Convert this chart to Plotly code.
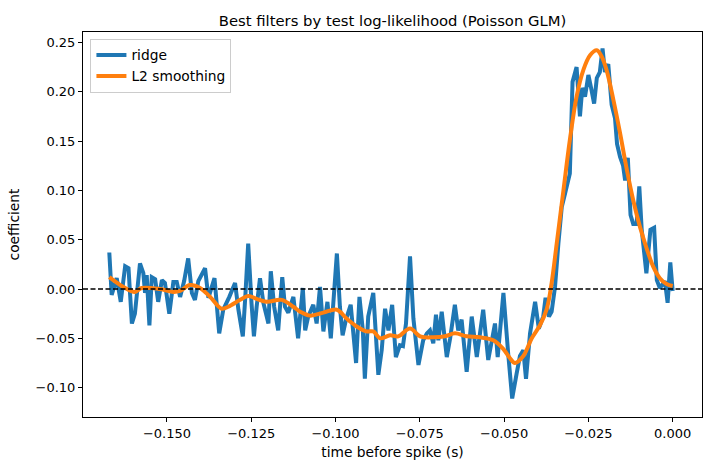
import plotly.graph_objects as go

# ridge filter: lag (s) and coefficient
ridge_t = [-0.1671, -0.1664, -0.1649, -0.1637, -0.1624, -0.1614, -0.1604, -0.1595, -0.1580, -0.1570,
           -0.1565, -0.1560, -0.1552, -0.1545, -0.1535, -0.1526, -0.1515, -0.1506, -0.1493, -0.1481,
           -0.1471, -0.1461, -0.1449, -0.1437, -0.1426, -0.1417, -0.1407, -0.1387, -0.1377, -0.1367,
           -0.1359, -0.1345, -0.1333, -0.1315, -0.1298, -0.1288, -0.1275, -0.1268, -0.1259, -0.1249,
           -0.1242, -0.1234, -0.1224, -0.1214, -0.1199, -0.1192, -0.1182, -0.1170, -0.1158, -0.1150,
           -0.1140, -0.1125, -0.1111, -0.1097, -0.1090, -0.1081, -0.1066, -0.1056, -0.1046, -0.1036,
           -0.1024, -0.1014, -0.0996, -0.0987, -0.0979, -0.0969, -0.0955, -0.0939, -0.0929, -0.0919,
           -0.0913, -0.0903, -0.0888, -0.0873, -0.0863, -0.0853, -0.0843, -0.0832, -0.0821, -0.0809,
           -0.0800, -0.0791, -0.0779, -0.0769, -0.0754, -0.0740, -0.0729, -0.0720, -0.0710, -0.0702,
           -0.0695, -0.0685, -0.0670, -0.0660, -0.0646, -0.0636, -0.0626, -0.0611, -0.0596, -0.0581,
           -0.0562, -0.0547, -0.0536, -0.0527, -0.0519, -0.0502, -0.0488, -0.0476, -0.0463, -0.0453,
           -0.0443, -0.0435, -0.0423, -0.0408, -0.0397, -0.0384, -0.0377, -0.0367, -0.0359, -0.0349,
           -0.0339, -0.0329, -0.0319, -0.0310, -0.0305, -0.0297, -0.0285, -0.0275, -0.0268, -0.0260,
           -0.0250, -0.0242, -0.0233, -0.0225, -0.0216, -0.0208, -0.0201, -0.0191, -0.0181, -0.0171,
           -0.0165, -0.0156, -0.0147, -0.0141, -0.0133, -0.0125, -0.0117, -0.0107, -0.0099, -0.0092,
           -0.0078, -0.0066, -0.0055, -0.0047, -0.0038, -0.0023, -0.0015, -0.0007, 0.0]
ridge_w = [0.037, -0.006, 0.011, -0.013, 0.023, 0.021, -0.035, -0.025, 0.026, 0.016,
           -0.004, 0.014, -0.037, 0.012, 0.010, -0.013, 0.009, 0.006, -0.025, 0.007,
           0.007, -0.008, 0.008, 0.031, -0.004, -0.011, 0.008, 0.021, -0.009, 0.004,
           0.011, -0.045, -0.021, -0.008, 0.006, -0.021, -0.048, -0.010, 0.046, -0.015,
           -0.048, -0.018, 0.011, -0.014, -0.035, 0.018, -0.018, -0.042, 0.012, -0.018,
           -0.024, -0.008, -0.050, 0.001, -0.042, -0.028, -0.016, -0.035, 0.002, -0.043,
           -0.013, -0.050, 0.036, -0.018, -0.047, -0.031, -0.016, -0.075, -0.008, -0.042,
           -0.091, -0.028, -0.004, -0.087, -0.062, -0.020, -0.042, -0.016, -0.069, -0.057,
           -0.058, -0.035, 0.033, -0.030, -0.077, -0.052, -0.045, -0.042, -0.055, -0.026,
           -0.052, -0.023, -0.069, -0.050, -0.016, -0.042, -0.031, -0.084, -0.028, -0.069,
           -0.021, -0.072, -0.050, -0.035, -0.069, -0.004, -0.065, -0.111, -0.086, -0.068,
           -0.062, -0.091, -0.045, -0.013, -0.040, -0.028, -0.009, -0.028, -0.023, 0.002,
           0.046, 0.083, 0.097, 0.110, 0.117, 0.210, 0.225, 0.175, 0.204, 0.195,
           0.217, 0.204, 0.188, 0.214, 0.220, 0.244, 0.220, 0.228, 0.187, 0.173,
           0.147, 0.134, 0.125, 0.110, 0.133, 0.075, 0.066, 0.066, 0.104, 0.061,
           0.016, 0.060, 0.062, 0.009, 0.001, 0.008, -0.014, 0.027, -0.002]

# L2-smoothing filter: lag (s) and coefficient
smooth_t = [-0.1671, -0.1629, -0.1595, -0.1575, -0.1521, -0.1481, -0.1461, -0.1432, -0.1402, -0.1372,
            -0.1338, -0.1318, -0.1283, -0.1259, -0.1234, -0.1204, -0.1160, -0.1125, -0.1105, -0.1076,
            -0.1036, -0.0996, -0.0967, -0.0937, -0.0908, -0.0888, -0.0868, -0.0838, -0.0814, -0.0779,
            -0.0749, -0.0710, -0.0675, -0.0646, -0.0611, -0.0572, -0.0532, -0.0502, -0.0483, -0.0468,
            -0.0443, -0.0418, -0.0394, -0.0374, -0.0359, -0.0344, -0.0324, -0.0305, -0.0285, -0.0265,
            -0.0245, -0.0225, -0.0211, -0.0196, -0.0176, -0.0156, -0.0136, -0.0117, -0.0097, -0.0077,
            -0.0058, -0.0038, -0.0018, 0.0]
smooth_w = [0.012, 0.002, -0.003, 0.001, 0.000, -0.003, -0.002, 0.004, 0.001, -0.008,
            -0.020, -0.018, -0.011, -0.007, -0.010, -0.013, -0.011, -0.018, -0.023, -0.027,
            -0.024, -0.021, -0.030, -0.038, -0.043, -0.043, -0.050, -0.047, -0.048, -0.040,
            -0.048, -0.049, -0.048, -0.045, -0.048, -0.049, -0.052, -0.061, -0.070, -0.075,
            -0.068, -0.050, -0.037, -0.021, 0.006, 0.046, 0.100, 0.151, 0.195, 0.222,
            0.237, 0.242, 0.236, 0.222, 0.192, 0.158, 0.121, 0.090, 0.063, 0.041,
            0.023, 0.011, 0.005, 0.003]

FONT = "DejaVu Sans"

fig = go.Figure()
fig.add_trace(go.Scatter(x=ridge_t, y=ridge_w, mode="lines", name="ridge",
                         line=dict(color="#1f77b4", width=4)))
fig.add_trace(go.Scatter(x=smooth_t, y=smooth_w, mode="lines", name="L2 smoothing",
                         line=dict(color="#ff7f0e", width=4, shape="spline", smoothing=1.0)))

fig.add_shape(type="line", xref="paper", yref="y", x0=0, x1=1, y0=0, y1=0,
              line=dict(color="black", width=1.3, dash="5px,2.5px"), layer="above")

fig.update_layout(
    width=711, height=470,
    margin=dict(l=83, r=9, t=32, b=53),
    paper_bgcolor="white", plot_bgcolor="white",
    font=dict(family=FONT, size=13, color="black"),
    title=dict(text="Best filters by test log-likelihood (Poisson GLM)",
               x=(83 + 702) / 2 / 711, xanchor="center", y=1 - 21 / 470, yanchor="middle",
               font=dict(family=FONT, size=14.8, color="black")),
    showlegend=True,
    legend=dict(x=0.012, y=0.983, xanchor="left", yanchor="top",
                bgcolor="rgba(255,255,255,0.8)", bordercolor="#cccccc", borderwidth=1,
                font=dict(family=FONT, size=13.8), tracegroupgap=0, itemwidth=30),
)

fig.update_xaxes(range=[-0.1749, 0.0087], tickmode="linear", tick0=0, dtick=0.025,
                 tickformat=".3f", ticks="outside", ticklen=4, tickwidth=1, tickcolor="black",
                 showline=True, linecolor="black", linewidth=1, mirror=True,
                 showgrid=False, zeroline=False,
                 title=dict(text="time before spike (s)", font=dict(family=FONT, size=13.8), standoff=7),
                 tickfont=dict(family=FONT, size=13))
fig.update_yaxes(range=[-0.1298, 0.2606], tickmode="linear", tick0=0, dtick=0.05,
                 tickformat=".2f", ticks="outside", ticklen=4, tickwidth=1, tickcolor="black",
                 showline=True, linecolor="black", linewidth=1, mirror=True,
                 showgrid=False, zeroline=False,
                 title=dict(text="coefficient", font=dict(family=FONT, size=13.8), standoff=12),
                 tickfont=dict(family=FONT, size=13))

fig.write_html("out.html")
